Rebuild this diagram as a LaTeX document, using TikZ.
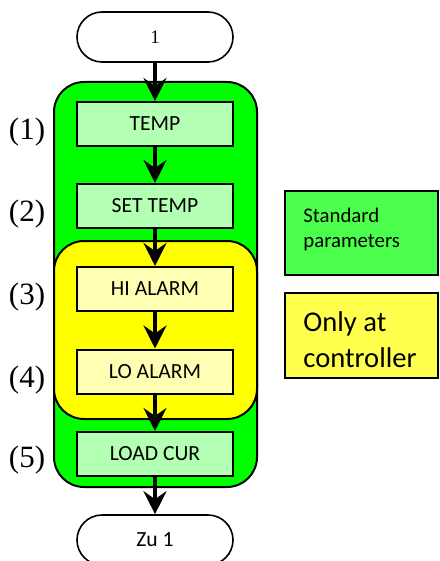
\documentclass[tikz,border=0pt]{standalone}
\usepackage{fontspec}
\setmainfont{Carlito}
\newfontfamily\timesfont{Liberation Serif}
\usetikzlibrary{shapes.misc,arrows.meta}

\definecolor{groupgreen}{RGB}{0,255,0}
\definecolor{stepgreen}{RGB}{179,255,179}
\definecolor{keygreen}{RGB}{77,255,77}
\definecolor{groupyellow}{RGB}{255,255,0}
\definecolor{stepyellow}{RGB}{255,255,179}
\definecolor{keyyellow}{RGB}{255,255,77}

\tikzset{
  stepbox/.style={draw, line width=1pt, minimum width=78pt, minimum height=22pt, inner sep=0pt, font=\fontsize{10.8}{13}\selectfont},
  terminal/.style={draw, rounded rectangle, line width=0.8pt, fill=white, minimum width=78pt, minimum height=25pt, inner sep=0pt},
  flow/.style={-{Stealth[length=11.5pt,width=11.5pt,inset=4pt]}, line width=2.2pt},
  numlabel/.style={font=\timesfont\fontsize{15.5}{18}\selectfont},
}

\begin{document}
\begin{tikzpicture}[x=0.5pt,y=-0.5pt]
\useasboundingbox (0,0) rectangle (439,561);
% parameter groups
\draw[line width=1pt, fill=groupgreen, rounded corners=15pt] (54,82) rectangle (257,487);
\draw[line width=1pt, fill=groupyellow, rounded corners=15pt] (54,241) rectangle (257,419);

\node[terminal] (start) at (155,37) {\timesfont\fontsize{9.5}{11}\selectfont 1};
\node[stepbox, fill=stepgreen] (temp) at (155,124) {TEMP};
\node[stepbox, fill=stepgreen] (settemp) at (155,206) {SET TEMP};
\node[stepbox, fill=stepyellow] (hialarm) at (155,289) {HI ALARM};
\node[stepbox, fill=stepyellow] (loalarm) at (155,371.5) {LO ALARM};
\node[stepbox, fill=stepgreen] (loadcur) at (155,454) {LOAD CUR};
\node[terminal, font=\fontsize{10.8}{13}\selectfont] (stop) at (155,540) {Zu 1};

\foreach \a/\b in {start/temp, temp/settemp, settemp/hialarm, hialarm/loalarm, loalarm/loadcur, loadcur/stop}
  \draw[flow] (\a) -- (\b);

% step numbers
\node[numlabel] (n1) at (27,132) {(1)};
\node[numlabel] (n2) at (27,214) {(2)};
\node[numlabel] (n3) at (27,297) {(3)};
\node[numlabel] (n4) at (27,380) {(4)};
\node[numlabel] (n5) at (27,460) {(5)};

% key
\draw[line width=0.8pt, fill=keygreen] (285,191) rectangle (438,275);
\node[anchor=base west, align=left, inner sep=0pt, font=\fontsize{10.4}{12.5}\selectfont] (keystd) at (303,247) {Standard\\parameters};
\draw[line width=0.8pt, fill=keyyellow] (285,293) rectangle (438,378);
\node[anchor=base west, align=left, inner sep=0pt, font=\fontsize{14.3}{18}\selectfont] (keyctrl) at (303,367) {Only at\\controller};
\end{tikzpicture}
\end{document}
